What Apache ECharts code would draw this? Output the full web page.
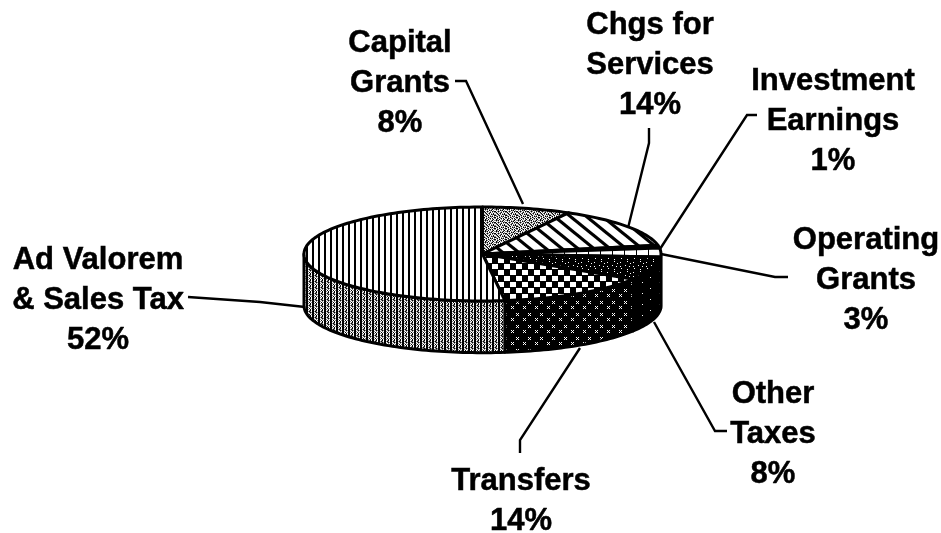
<!DOCTYPE html>
<html>
<head>
<meta charset="utf-8">
<title>Revenue pie</title>
<script src="https://cdn.jsdelivr.net/npm/echarts@6/dist/echarts.min.js"></script>
<style>
  html, body { margin: 0; padding: 0; background: #fff; }
  #main { width: 941px; height: 533px; }
</style>
</head>
<body>
<div id="main"></div>
<script>
// clockwise from 12 o'clock
const categories = ["Capital Grants", "Chgs for Services", "Investment Earnings", "Operating Grants", "Other Taxes", "Transfers", "Ad Valorem & Sales Tax"];
const percents = [8, 14, 1, 3, 8, 14, 52];
const labelLines = [
  ["Capital", "Grants"],
  ["Chgs for", "Services"],
  ["Investment", "Earnings"],
  ["Operating", "Grants"],
  ["Other", "Taxes"],
  ["Transfers"],
  ["Ad Valorem", "& Sales Tax"]
];

// small bitmap tiles, "#" black, "." white, "o" gray
function tile(rows) {
  const c = document.createElement("canvas");
  c.width = rows[0].length;
  c.height = rows.length;
  const ctx = c.getContext("2d");
  rows.forEach((row, y) => {
    for (let x = 0; x < row.length; x++) {
      ctx.fillStyle = row[x] === "#" ? "#000" : row[x] === "o" ? "#888" : "#fff";
      ctx.fillRect(x, y, 1, 1);
    }
  });
  return { image: c, repeat: "repeat" };
}

function diagonalTile() {
  const c = document.createElement("canvas");
  c.width = 16;
  c.height = 13;
  const ctx = c.getContext("2d");
  ctx.fillStyle = "#fff";
  ctx.fillRect(0, 0, 16, 13);
  ctx.strokeStyle = "#000";
  ctx.lineWidth = 3.2;
  [-16, 0, 16].forEach(o => {
    ctx.beginPath();
    ctx.moveTo(o - 16, -13);
    ctx.lineTo(o + 32, 26);
    ctx.stroke();
  });
  return { image: c, repeat: "repeat" };
}

const speckle = tile([
  "o#o#.o.o#.o",
  ".o.o.#o#.o.",
  "#.o#o.o.#o#",
  "o#.o.o#.o.o",
  ".o#.o#.o.#.",
  "o.o#.o.#o#o",
  "#o.o#.o.o.#",
  ".o#.o.#o#.o",
  "#.o.#o.o.o#",
  "o.#o.o#.#.o",
  ".#o.#.o.o#."
]);
const stripesTop = tile(["##....", "##....", "##...."]);
const stripesWall = tile(["##.o#o", "##o.o.", "##.#.o", "##o.#.", "##.o#.", "##o#o."]);
const ticks = tile(["#...........", "#...........", "#..........."]);
const checkerTop = tile([
  "......######", "......######", "......######", "......######", "......######", "############",
  "######......", "######......", "######......", "######......", "######......", "############"
]);
const checkerWall = tile([
  "############", ".#.#########", "#.##########", ".#.#########", "############", "############",
  "#######.#.##", "########.###", "#######.#.##", "############", "############", "############"
]);
const darkTop = tile([
  "#############", "###.#########", "#########.###", "######.######", "#############",
  "#.###########", "#####.###.###", "#############", "##########.##", "###.#########"
]);
const darkWall = tile([
  "#################", "#################", "####.############", "#################", "#################",
  "#################", "#################", "#############.###", "#################", "#################",
  "#################"
]);

const topFills = [speckle, diagonalTile(), "#000", ticks, darkTop, checkerTop, stripesTop];
const wallFills = [speckle, "#000", "#000", darkWall, darkWall, checkerWall, stripesWall];

// wall depth in y-axis units (axis runs -1..1 across the top ellipse)
const depth = 1.1;

const starts = [];
percents.reduce((sum, v, i) => { starts[i] = sum; return sum + v; }, 0);

function renderSlice(params, api) {
  const i = params.dataIndex;
  const a0 = starts[i] * 3.6;
  const a1 = (starts[i] + percents[i]) * 3.6;
  const rim = (a, drop) => {
    const r = a * Math.PI / 180;
    return api.coord([Math.sin(r), Math.cos(r) - drop]);
  };
  const arc = (from, to, drop) => {
    const pts = [];
    for (let a = from; a < to; a += 1.5) pts.push(rim(a, drop));
    pts.push(rim(to, drop));
    return pts;
  };
  const children = [];
  const w0 = Math.max(a0, 90);
  const w1 = Math.min(a1, 270);
  if (w1 > w0) {
    children.push({
      type: "polygon",
      shape: { points: arc(w0, w1, 0).concat(arc(w0, w1, depth).reverse()) },
      style: { fill: wallFills[i], stroke: "#000", lineWidth: 3, lineJoin: "round" }
    });
  }
  children.push({
    type: "polygon",
    shape: { points: [api.coord([0, 0])].concat(arc(a0, a1, 0)) },
    style: { fill: topFills[i], stroke: "#000", lineWidth: 3, lineJoin: "round" }
  });
  return { type: "group", children };
}

// label block centres and leader lines, in pixels
const labelPos = [[400, 83], [650, 65], [833, 121], [866, 280], [773, 434], [521, 501], [98, 300]];
const leaders = [
  [[455, 81], [466, 81], [523, 204]],
  [[649, 128], [649, 143], [628, 228]],
  [[757, 115], [747, 115], [660, 249]],
  [[661, 254], [775, 277], [788, 277]],
  [[654, 322], [715, 431], [727, 431]],
  [[580, 348], [520, 440], [520, 453]],
  [[188, 297], [260, 302], [305, 307]]
];

const graphics = [];
leaders.forEach(points => {
  graphics.push({
    type: "polyline",
    shape: { points },
    style: { fill: null, stroke: "#000", lineWidth: 2.4 }
  });
});
categories.forEach((name, i) => {
  graphics.push({
    type: "text",
    x: labelPos[i][0],
    y: labelPos[i][1],
    style: {
      text: labelLines[i].concat(percents[i] + "%").join("\n"),
      font: "bold 31px 'Liberation Sans', Arial, sans-serif",
      lineHeight: 40,
      fill: "#000",
      stroke: "#000",
      lineWidth: 0.5,
      align: "center",
      verticalAlign: "middle"
    }
  });
});

const chart = echarts.init(document.getElementById("main"), null, { renderer: "canvas" });
chart.setOption({
  animation: false,
  backgroundColor: "#fff",
  grid: { left: 304, top: 207, width: 357, height: 94 },
  xAxis: { type: "value", min: -1, max: 1, show: false },
  yAxis: { type: "value", min: -1, max: 1, show: false },
  tooltip: { show: false },
  graphic: graphics,
  series: [{
    type: "custom",
    clip: false,
    silent: true,
    renderItem: renderSlice,
    data: percents.map((v, i) => [i, v])
  }]
});
</script>
</body>
</html>
